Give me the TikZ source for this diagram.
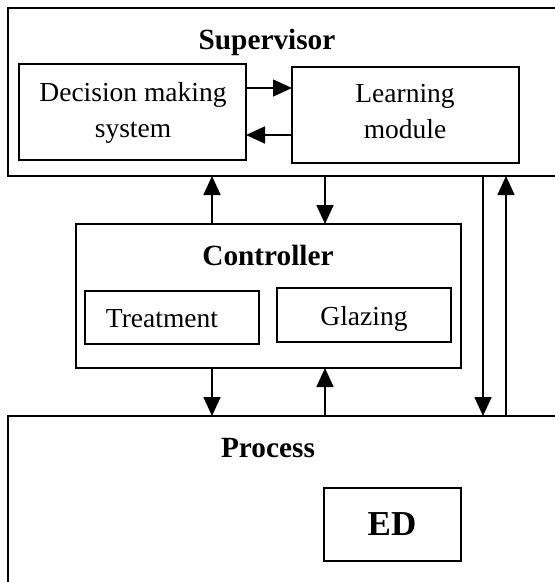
\documentclass[tikz,border=0pt]{standalone}
\usepackage{fontspec}
\setmainfont{Liberation Serif}
\usetikzlibrary{arrows.meta}
\begin{document}
\begin{tikzpicture}[x=1pt,y=-1pt,
  box/.style={draw,line width=1.7pt,anchor=north west,inner sep=0pt,outer sep=0pt},
  arr/.style={-{Triangle[length=19pt,width=17pt]},line width=1.7pt},
  txt/.style={anchor=base,inner sep=0pt,font=\fontsize{27.5}{33}\selectfont},
  btxt/.style={anchor=base,inner sep=0pt,font=\fontsize{29.3}{35}\selectfont\bfseries}]
\useasboundingbox (0,0) rectangle (555,582);
\clip (0,0) rectangle (555,582);
% main boxes
\node[box,minimum width=600pt,minimum height=168pt] (sup) at (8,8) {};
\node[box,minimum width=385pt,minimum height=144pt] (ctrl) at (76,224) {};
\node[box,minimum width=600pt,minimum height=240pt] (proc) at (8,416) {};
% inner boxes
\node[box,minimum width=227pt,minimum height=96pt] (dec) at (19,64) {};
\node[box,minimum width=227pt,minimum height=96pt] (learn) at (292,67) {};
\node[box,minimum width=174pt,minimum height=53pt] (treat) at (85,291) {};
\node[box,minimum width=174pt,minimum height=54pt] (glaz) at (277,288) {};
\node[box,minimum width=137pt,minimum height=73pt] (ed) at (324,488) {};
% labels
\node[btxt] (supl) at (267,49) {Supervisor};
\node[txt] (dec1) at (133,101) {Decision making};
\node[txt] (dec2) at (133,137) {system};
\node[txt] (learn1) at (405,102) {Learning};
\node[txt] (learn2) at (405,138) {module};
\node[btxt] (ctrll) at (268,265) {Controller};
\node[txt] (treatl) at (162,327) {Treatment};
\node[txt] (glazl) at (364,325) {Glazing};
\node[btxt] (procl) at (268,457) {Process};
\node[btxt,font=\fontsize{35}{40}\selectfont\bfseries] (edl) at (392,535) {ED};
% connectors inside supervisor
\draw[arr] (dec.east |- 0,88) -- (learn.west |- 0,88);
\draw[arr] (learn.west |- 0,135) -- (dec.east |- 0,135);
% supervisor <-> controller
\draw[arr] (ctrl.north -| 212,0) -- (sup.south -| 212,0);
\draw[arr] (sup.south -| 325,0) -- (ctrl.north -| 325,0);
% controller <-> process
\draw[arr] (ctrl.south -| 212,0) -- (proc.north -| 212,0);
\draw[arr] (proc.north -| 325,0) -- (ctrl.south -| 325,0);
% supervisor <-> process
\draw[arr] (sup.south -| 483,0) -- (proc.north -| 483,0);
\draw[arr] (proc.north -| 506,0) -- (sup.south -| 506,0);
\end{tikzpicture}
\end{document}
